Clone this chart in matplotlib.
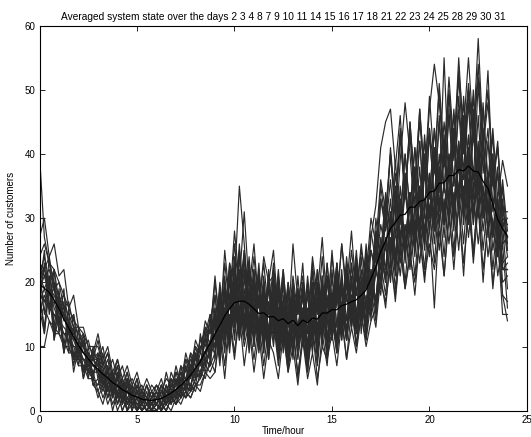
import numpy as np
import pandas as pd
import matplotlib
matplotlib.use("Agg")
import matplotlib.pyplot as plt

plt.rcParams['font.family'] = ['Liberation Sans', 'DejaVu Sans']

days = [2, 3, 4, 8, 7, 9, 10, 11, 14, 15, 16, 17, 18, 21, 22, 23, 24, 25, 28, 29, 30, 31]
hours = np.linspace(0, 24, 97)

day_02 = [22,15,24,13,19,10,16,8,13,6,10,5, 9,4,7,2,6,1,5,0,4,1,3,0, 2,4,1,5,2,7,3,9,5,12,7,15,
          8,19,11,22,14,25,12,23,10,21,9,20, 21,9,18,7,20,10,19,8,22,11,20,12,
          11,22,12,23,13,24,12,25,14,28,20,33, 23,35,25,37,24,38,27,40,28,41,29,42,
          30,44,31,45,29,46,30,43,27,40,24,35, 26]
day_03 = [27,30,24,26,21,22,16,18,13,13,10,10, 10,7,9,5,7,3,6,2,5,1,4,2, 4,2,6,3,7,4,9,6,11,9,14,12,
          21,13,25,17,28,20,31,19,26,16,24,20, 25,15,22,13,26,17,21,14,24,18,27,16,
          24,17,26,19,28,18,25,21,30,26,36,31, 40,30,43,33,45,34,47,36,44,37,50,38,
          49,39,52,40,50,42,54,41,53,35,41,30, 29]
day_04 = [16,12,19,11,15,9,13,6,10,5,8,4, 3,1,4,0,3,0,2,1,2,0,1,0, 0,1,0,2,1,3,2,4,3,6,5,8,
          6,12,5,14,8,15,7,13,6,12,5,11, 9,5,12,6,10,4,11,7,13,5,10,8,
          12,7,14,8,13,9,15,10,14,16,20,17, 23,18,25,19,24,20,27,21,26,22,28,21,
          30,24,32,23,31,25,33,22,29,20,26,18, 17]
day_08 = [40,27,23,20,18,15,12,13,9,11,7,8, 6,8,4,6,2,5,1,4,0,3,1,2, 3,0,4,1,5,2,7,3,9,5,12,8,
          16,10,19,12,22,14,24,11,20,13,18,10, 19,11,17,9,20,12,18,8,16,19,10,21,
          13,19,11,21,14,23,15,20,17,22,29,25, 33,24,35,26,34,28,38,27,36,30,40,29,
          38,31,42,33,41,30,40,32,37,28,33,22, 22]
day_07 = [21,24,20,22,17,18,14,15,11,12,8,9, 8,5,7,3,6,2,5,1,3,2,4,1, 3,1,4,2,6,3,8,5,10,7,13,10,
          18,11,20,13,24,15,25,14,22,13,21,12, 22,13,20,11,19,15,23,12,18,21,13,23,
          14,23,13,22,15,24,14,23,25,21,33,28, 36,27,39,48,40,30,42,31,44,32,46,34,
          47,35,49,37,50,36,51,37,44,32,38,26, 27]
day_09 = [18,13,20,12,17,9,13,8,10,6,8,4, 4,6,2,5,1,4,0,3,1,2,0,1, 0,2,1,3,1,4,2,6,4,8,6,10,
          9,15,10,17,12,18,11,19,13,17,10,16, 17,9,16,8,18,10,16,7,17,10,19,9,
          18,11,19,12,20,13,21,12,22,17,25,21, 29,21,31,23,32,24,33,25,35,26,36,27,
          37,28,39,29,38,30,37,28,35,25,31,20, 21]
day_10 = [19,21,18,19,15,16,12,12,10,10,7,8, 7,4,5,6,3,4,2,3,0,2,1,3, 1,3,2,4,3,6,4,7,6,10,9,13,
          10,17,14,23,20,35,26,16,22,12,20,11, 19,12,17,10,16,13,18,9,17,12,19,14,
          13,20,12,21,15,22,14,21,16,25,20,30, 25,33,26,34,28,36,27,37,30,38,32,39,
          33,41,34,42,33,43,35,40,31,36,28,30, 24]
day_11 = [20,17,19,16,14,15,12,10,10,8,8,6, 8,5,6,3,5,2,4,1,3,1,2,0, 2,4,1,3,2,5,4,6,8,7,11,10,
          16,9,19,13,21,15,24,13,20,11,19,12, 20,10,21,9,19,11,20,10,18,13,21,11,
          21,13,22,12,23,14,24,15,25,22,33,29, 41,32,44,34,45,35,47,36,49,38,51,40,
          52,41,53,44,55,43,58,42,50,36,42,29, 30]
day_14 = [15,16,14,13,12,11,9,9,7,7,5,5, 2,4,1,3,0,2,0,1,0,1,0,0, 1,0,1,0,2,1,3,2,4,3,6,5,
          6,13,7,15,9,16,10,14,8,14,7,13, 14,7,13,6,14,5,12,6,13,7,15,8,
          14,9,15,8,16,10,15,11,17,13,21,16, 24,17,26,19,25,18,27,20,29,16,30,21,
          31,22,32,21,33,23,32,20,30,19,27,15, 15]
day_15 = [23,22,24,19,20,16,17,13,13,10,11,8, 11,7,9,5,8,4,6,3,5,2,4,2, 3,5,2,6,4,7,6,9,8,11,12,15,
          11,20,13,23,15,26,16,24,14,23,12,22, 13,21,11,20,12,19,14,20,12,22,15,21,
          15,23,16,22,17,25,16,26,18,30,24,34, 28,39,30,40,31,41,32,43,33,44,34,55,
          36,47,37,49,38,50,37,48,34,43,29,36, 28]
day_16 = [17,23,15,20,12,17,9,13,7,11,5,9, 5,7,3,6,2,4,1,3,0,2,1,1, 2,1,3,2,4,3,5,4,7,6,9,8,
          15,8,18,11,20,12,21,10,19,11,18,9, 18,9,17,8,18,10,16,9,19,11,20,10,
          19,11,20,12,21,13,20,14,22,17,27,22, 31,22,33,25,34,26,35,27,37,29,38,30,
          39,30,40,31,41,29,40,30,36,27,33,22, 23]
day_17 = [21,19,21,17,17,14,14,11,11,9,9,7, 7,9,5,6,4,5,3,4,2,3,2,4, 3,1,4,2,5,3,7,5,9,7,11,9,
          10,18,12,21,13,24,14,22,12,21,11,20, 12,20,11,19,10,21,12,18,11,20,13,21,
          12,21,13,22,14,21,15,23,16,27,22,31, 24,35,26,37,27,38,28,40,30,41,31,43,
          32,44,33,46,32,47,31,44,30,40,26,33, 25]
day_18 = [18,17,16,15,14,12,12,9,9,7,7,6, 6,3,5,2,4,1,3,1,2,0,1,0, 1,0,2,1,3,2,4,3,5,6,8,7,
          14,8,16,10,18,11,17,9,16,10,15,8, 16,8,15,7,16,9,14,7,16,9,17,10,
          17,9,16,11,18,10,19,11,21,15,25,20, 31,23,33,26,34,27,35,28,37,30,38,31,
          40,32,41,33,43,31,41,32,37,28,33,23, 24]
day_21 = [22,21,20,19,17,15,14,12,11,10,8,8, 9,6,8,4,7,3,5,2,4,3,2,1, 2,3,1,4,3,5,5,7,8,10,11,14,
          18,11,21,13,23,15,22,14,21,13,20,12, 21,12,20,11,19,13,18,10,20,12,21,13,
          22,13,21,14,23,15,22,16,27,32,41,45, 47,38,46,34,43,32,42,31,43,33,45,34,
          46,35,47,36,48,34,46,33,42,31,37,26, 27]
day_22 = [19,12,21,11,17,9,14,7,11,5,9,4, 5,2,4,1,3,0,2,0,2,0,1,0, 0,1,0,2,1,3,2,3,4,5,7,6,
          8,16,9,18,11,19,12,17,10,18,9,16, 10,18,9,16,8,17,10,15,9,18,11,17,
          11,19,12,18,13,19,14,18,15,22,18,27, 21,30,23,29,25,32,26,33,28,34,29,35,
          30,37,31,38,30,38,31,35,28,33,24,29, 19]
day_23 = [24,26,23,22,20,18,16,14,13,12,10,9, 12,8,10,6,8,5,7,4,6,3,5,3, 4,3,5,4,6,5,8,7,10,9,13,12,
          20,13,23,16,26,18,25,17,24,16,23,15, 23,14,22,13,21,15,20,12,23,15,24,14,
          25,16,26,17,25,18,26,19,28,23,35,29, 40,31,43,33,44,35,45,36,47,54,48,39,
          50,40,55,42,51,43,52,41,48,37,41,31, 31]
day_24 = [17,19,16,17,14,13,12,11,9,8,7,7, 6,4,5,3,4,2,3,2,1,0,1,0, 0,1,1,2,2,3,4,4,6,5,8,7,
          9,16,11,18,13,20,12,19,11,18,10,17, 11,18,10,17,9,18,11,16,10,17,12,18,
          12,19,11,20,13,19,14,21,15,22,19,26, 20,28,21,29,22,30,23,31,24,32,25,33,
          26,34,25,35,27,34,26,33,24,30,21,26, 16]
day_25 = [20,22,19,18,16,15,13,12,10,9,8,7, 7,5,6,3,5,2,4,1,3,1,2,0, 1,2,1,3,2,4,3,6,5,8,7,10,
          15,9,18,11,20,13,19,12,18,10,17,9, 16,8,14,7,12,6,11,5,9,4,12,7,
          16,9,17,11,18,12,19,13,21,17,26,22, 30,22,32,24,33,25,34,26,36,28,37,29,
          40,31,42,32,41,33,42,31,37,28,33,22, 22]
day_28 = [23,21,22,19,18,16,15,13,12,10,9,8, 8,10,6,8,5,7,4,5,3,4,2,3, 2,4,3,5,4,6,5,8,7,11,10,14,
          11,19,13,22,15,25,16,23,14,22,13,21, 14,22,13,20,14,19,12,21,13,22,14,23,
          15,23,14,24,16,23,17,25,18,28,24,33, 28,37,29,40,31,41,32,42,33,44,35,45,
          37,46,38,48,39,49,38,47,36,44,33,39, 35]
day_29 = [15,18,16,15,13,12,11,10,8,8,6,6, 3,5,2,4,1,3,0,2,0,1,0,1, 0,1,0,2,1,2,3,2,4,4,6,7,
          14,7,16,9,18,11,17,10,16,9,15,8, 16,8,15,7,16,8,14,6,16,8,17,9,
          17,10,16,11,18,10,17,12,19,14,23,18, 27,19,28,20,29,21,30,22,32,23,33,24,
          34,25,35,26,36,24,35,25,33,22,30,18, 14]
day_30 = [19,25,16,22,13,19,10,15,8,12,6,10, 7,4,6,3,5,1,4,2,3,0,2,1, 1,3,2,4,3,5,4,7,6,9,8,11,
          10,17,12,20,14,22,13,21,12,20,11,19, 12,19,11,18,12,17,11,19,13,18,12,20,
          14,21,13,20,15,22,14,23,16,26,22,31, 25,34,27,35,28,37,29,38,31,40,32,41,
          33,43,34,44,35,45,34,42,31,39,27,32, 25]
day_31 = [10,10,14,12,12,10,10,8,8,7,6,5, 4,6,3,5,2,4,1,2,0,1,0,2, 1,0,2,1,3,2,4,3,5,6,8,9,
          14,8,16,11,19,12,18,11,17,10,16,9, 17,9,16,8,17,10,15,8,17,9,18,10,
          18,10,19,11,20,12,19,13,21,16,25,20, 30,22,32,24,33,25,34,26,35,28,37,29,
          38,29,40,30,41,29,39,30,36,27,32,22, 22]

series = [day_02, day_03, day_04, day_08, day_07, day_09, day_10, day_11, day_14, day_15, day_16,
          day_17, day_18, day_21, day_22, day_23, day_24, day_25, day_28, day_29, day_30, day_31]

fig = plt.figure(figsize=(5.31, 4.37), dpi=100)
ax = fig.add_axes([0.0744, 0.0602, 0.918, 0.881])

for s in series:
    ax.plot(hours, s, color='0.17', lw=0.85)

# average over the days (smoothed over one hour)
mean_curve = pd.Series(np.mean(np.array(series, dtype=float), axis=0))
mean_smooth = mean_curve.rolling(5, center=True, min_periods=1).mean()
ax.plot(hours, mean_smooth.values, color='k', lw=0.9)

ax.set_xlim(0, 25)
ax.set_ylim(0, 60)
ax.set_xticks([0, 5, 10, 15, 20, 25])
ax.set_yticks([0, 10, 20, 30, 40, 50, 60])
ax.tick_params(direction='in', length=3.5, width=0.6, labelsize=7, top=True, right=True, pad=3)
for sp in ax.spines.values():
    sp.set_linewidth(0.8)
ax.set_xlabel('Time/hour', fontsize=7, labelpad=1)
ax.set_ylabel('Number of customers', fontsize=7, labelpad=6)
ax.set_title('Averaged system state over the days ' + ' '.join(str(d) for d in days),
             fontsize=7.3, pad=4)

fig.savefig('out.png', dpi=100)
